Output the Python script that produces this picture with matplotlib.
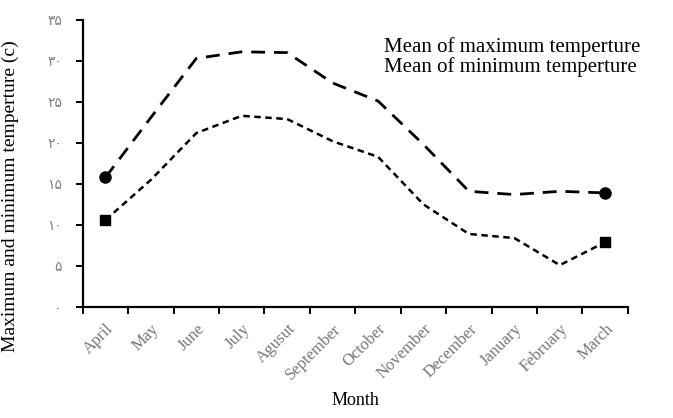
import matplotlib
matplotlib.use("Agg")
import matplotlib.pyplot as plt
import numpy as np

months = ["April", "May", "June", "July", "Agusut", "September", "October",
          "November", "December", "January", "February", "March"]
mean_max = [15.8, 23.1, 30.3, 31.1, 31.0, 27.3, 25.1, 19.8, 14.1, 13.7, 14.1, 13.9]
mean_min = [10.6, 15.5, 21.2, 23.3, 22.9, 20.2, 18.3, 12.5, 8.9, 8.4, 5.1, 7.9]
ytick_vals = [0, 5, 10, 15, 20, 25, 30, 35]
ytick_labels = ["۰", "۵", "۱۰", "۱۵", "۲۰", "۲۵", "۳۰", "۳۵"]
legend_labels = ["Mean of maximum temperture", "Mean of minimum temperture"]

serif = ["Liberation Serif", "DejaVu Serif"]
plt.rcParams['font.family'] = serif

fig = plt.figure(figsize=(6.73, 4.18), dpi=100)
ax = fig.add_axes([0.123, 0.2656, 0.81, 0.687])

x = np.arange(len(months))
l1, = ax.plot(x, mean_max, color="black", lw=2.0, dashes=(5, 3.2),
              marker="o", markevery=[0, len(months) - 1], markersize=8)
l2, = ax.plot(x, mean_min, color="black", lw=1.8, dashes=(2.6, 1.8),
              marker="s", markevery=[0, len(months) - 1], markersize=6.5)

ax.set_xlim(-0.5, len(months) - 0.5)
ax.set_ylim(0, 35)

for s in ["top", "right"]:
    ax.spines[s].set_visible(False)
for s in ["left", "bottom"]:
    ax.spines[s].set_linewidth(1.6)

ax.set_yticks(ytick_vals)
ax.set_yticklabels(ytick_labels, family=["DejaVu Sans"], color="#808080", fontsize=10)
ax.tick_params(axis="y", direction="out", length=5, width=1.4, pad=10)

ax.set_xticks(x)
ax.set_xticklabels(months, rotation=45, ha="right", rotation_mode="anchor",
                   color="#777777", fontsize=12)
ax.tick_params(axis="x", which="major", length=0, pad=10)
ax.set_xticks(np.arange(-0.5, len(months)), minor=True)
ax.tick_params(axis="x", which="minor", direction="out", length=5, width=1.4)

ax.set_ylabel("Maximum and minimum temperture (c)", fontsize=14)
ax.yaxis.set_label_coords(-0.117, 0.385)
ax.set_xlabel("Month", fontsize=13, labelpad=7)

leg = ax.legend([l1, l2], legend_labels, loc="upper left",
                bbox_to_anchor=(0.538, 0.968), frameon=False, fontsize=15,
                handlelength=0, handletextpad=0, labelspacing=0.0,
                borderaxespad=0)
for h in leg.legend_handles:
    h.set_visible(False)

fig.savefig("out.png", dpi=100)
